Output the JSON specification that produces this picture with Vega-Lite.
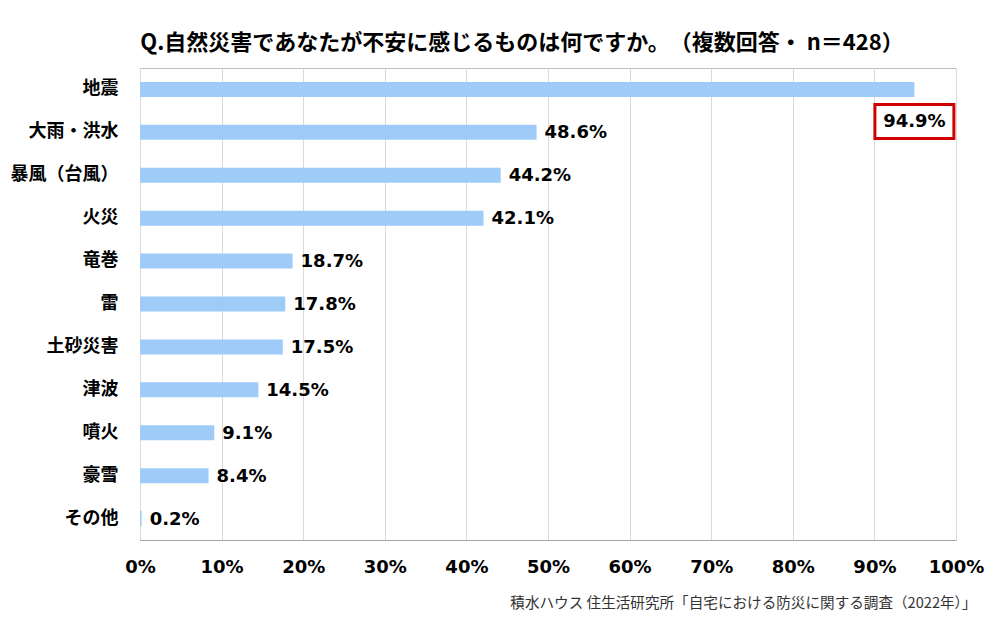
{
  "$schema": "https://vega.github.io/schema/vega-lite/v6.json",
  "width": 816,
  "height": 472,
  "autosize": {"type": "none"},
  "padding": {"left": 140, "top": 68, "right": 44, "bottom": 81},
  "background": "white",
  "title": {
    "text": "Q.自然災害であなたが不安に感じるものは何ですか。　（複数回答・ n＝428）",
    "font": "Noto Sans CJK JP",
    "fontSize": 22,
    "fontWeight": "bold",
    "color": "#000000",
    "anchor": "middle",
    "dx": -26,
    "offset": 13
  },
  "config": {
    "view": {"stroke": "#bfbfbf", "strokeWidth": 1},
    "axis": {"gridColor": "#d9d9d9", "labelColor": "#000000"}
  },
  "data": {
    "values": [
      {"item": "地震", "pct": 94.9, "label": "94.9%", "top": true},
      {"item": "大雨・洪水", "pct": 48.6, "label": "48.6%", "top": false},
      {"item": "暴風（台風）", "pct": 44.2, "label": "44.2%", "top": false},
      {"item": "火災", "pct": 42.1, "label": "42.1%", "top": false},
      {"item": "竜巻", "pct": 18.7, "label": "18.7%", "top": false},
      {"item": "雷", "pct": 17.8, "label": "17.8%", "top": false},
      {"item": "土砂災害", "pct": 17.5, "label": "17.5%", "top": false},
      {"item": "津波", "pct": 14.5, "label": "14.5%", "top": false},
      {"item": "噴火", "pct": 9.1, "label": "9.1%", "top": false},
      {"item": "豪雪", "pct": 8.4, "label": "8.4%", "top": false},
      {"item": "その他", "pct": 0.2, "label": "0.2%", "top": false}
    ]
  },
  "encoding": {
    "y": {
      "field": "item",
      "type": "nominal",
      "sort": null,
      "scale": {"paddingInner": 0.65, "paddingOuter": 0.325},
      "axis": {
        "title": null,
        "domain": false,
        "ticks": false,
        "tickSize": 0,
        "labelPadding": 22,
        "labelFont": "Noto Sans CJK JP",
        "labelFontSize": 18,
        "labelFontWeight": "bold",
        "labelColor": "#000000"
      }
    },
    "x": {
      "field": "pct",
      "type": "quantitative",
      "scale": {"domain": [0, 100], "nice": false},
      "axis": {
        "title": "積水ハウス 住生活研究所「自宅における防災に関する調査（2022年）」",
        "titleFont": "Noto Sans CJK JP",
        "titleFontSize": 14.6,
        "titleFontWeight": "normal",
        "titleColor": "#333333",
        "titleAlign": "right",
        "titleAnchor": "end",
        "titleBaseline": "middle",
        "titleX": 836,
        "titleY": 63,
        "values": [0, 10, 20, 30, 40, 50, 60, 70, 80, 90, 100],
        "labelExpr": "datum.value + '%'",
        "labelFlush": false,
        "labelOverlap": false,
        "ticks": false,
        "tickSize": 0,
        "labelPadding": 18,
        "labelFont": "DejaVu Sans",
        "labelFontSize": 18,
        "labelFontWeight": "bold",
        "domainColor": "#a6a6a6",
        "grid": true,
        "gridColor": "#d9d9d9"
      }
    }
  },
  "layer": [
    {"mark": {"type": "bar", "color": "#9ecbf7"}},
    {
      "transform": [{"filter": "!datum.top"}],
      "mark": {
        "type": "text",
        "align": "left",
        "baseline": "middle",
        "dx": 8,
        "dy": 1,
        "font": "DejaVu Sans",
        "fontSize": 18,
        "fontWeight": "bold",
        "color": "#000000"
      },
      "encoding": {"text": {"field": "label"}}
    },
    {
      "transform": [{"filter": "datum.top"}],
      "mark": {
        "type": "point",
        "shape": "M-1,-0.43L1,-0.43L1,0.43L-1,0.43Z",
        "size": 6241,
        "filled": false,
        "fill": "#ffffff",
        "fillOpacity": 1,
        "stroke": "#d00000",
        "strokeWidth": 3,
        "opacity": 1
      },
      "encoding": {
        "x": {"field": "pct", "type": "quantitative"},
        "yOffset": {"value": 39.5}
      }
    },
    {
      "transform": [{"filter": "datum.top"}],
      "mark": {
        "type": "text",
        "align": "center",
        "baseline": "middle",
        "dy": 33,
        "font": "DejaVu Sans",
        "fontSize": 18,
        "fontWeight": "bold",
        "color": "#000000"
      },
      "encoding": {"text": {"field": "label"}}
    }
  ]
}
